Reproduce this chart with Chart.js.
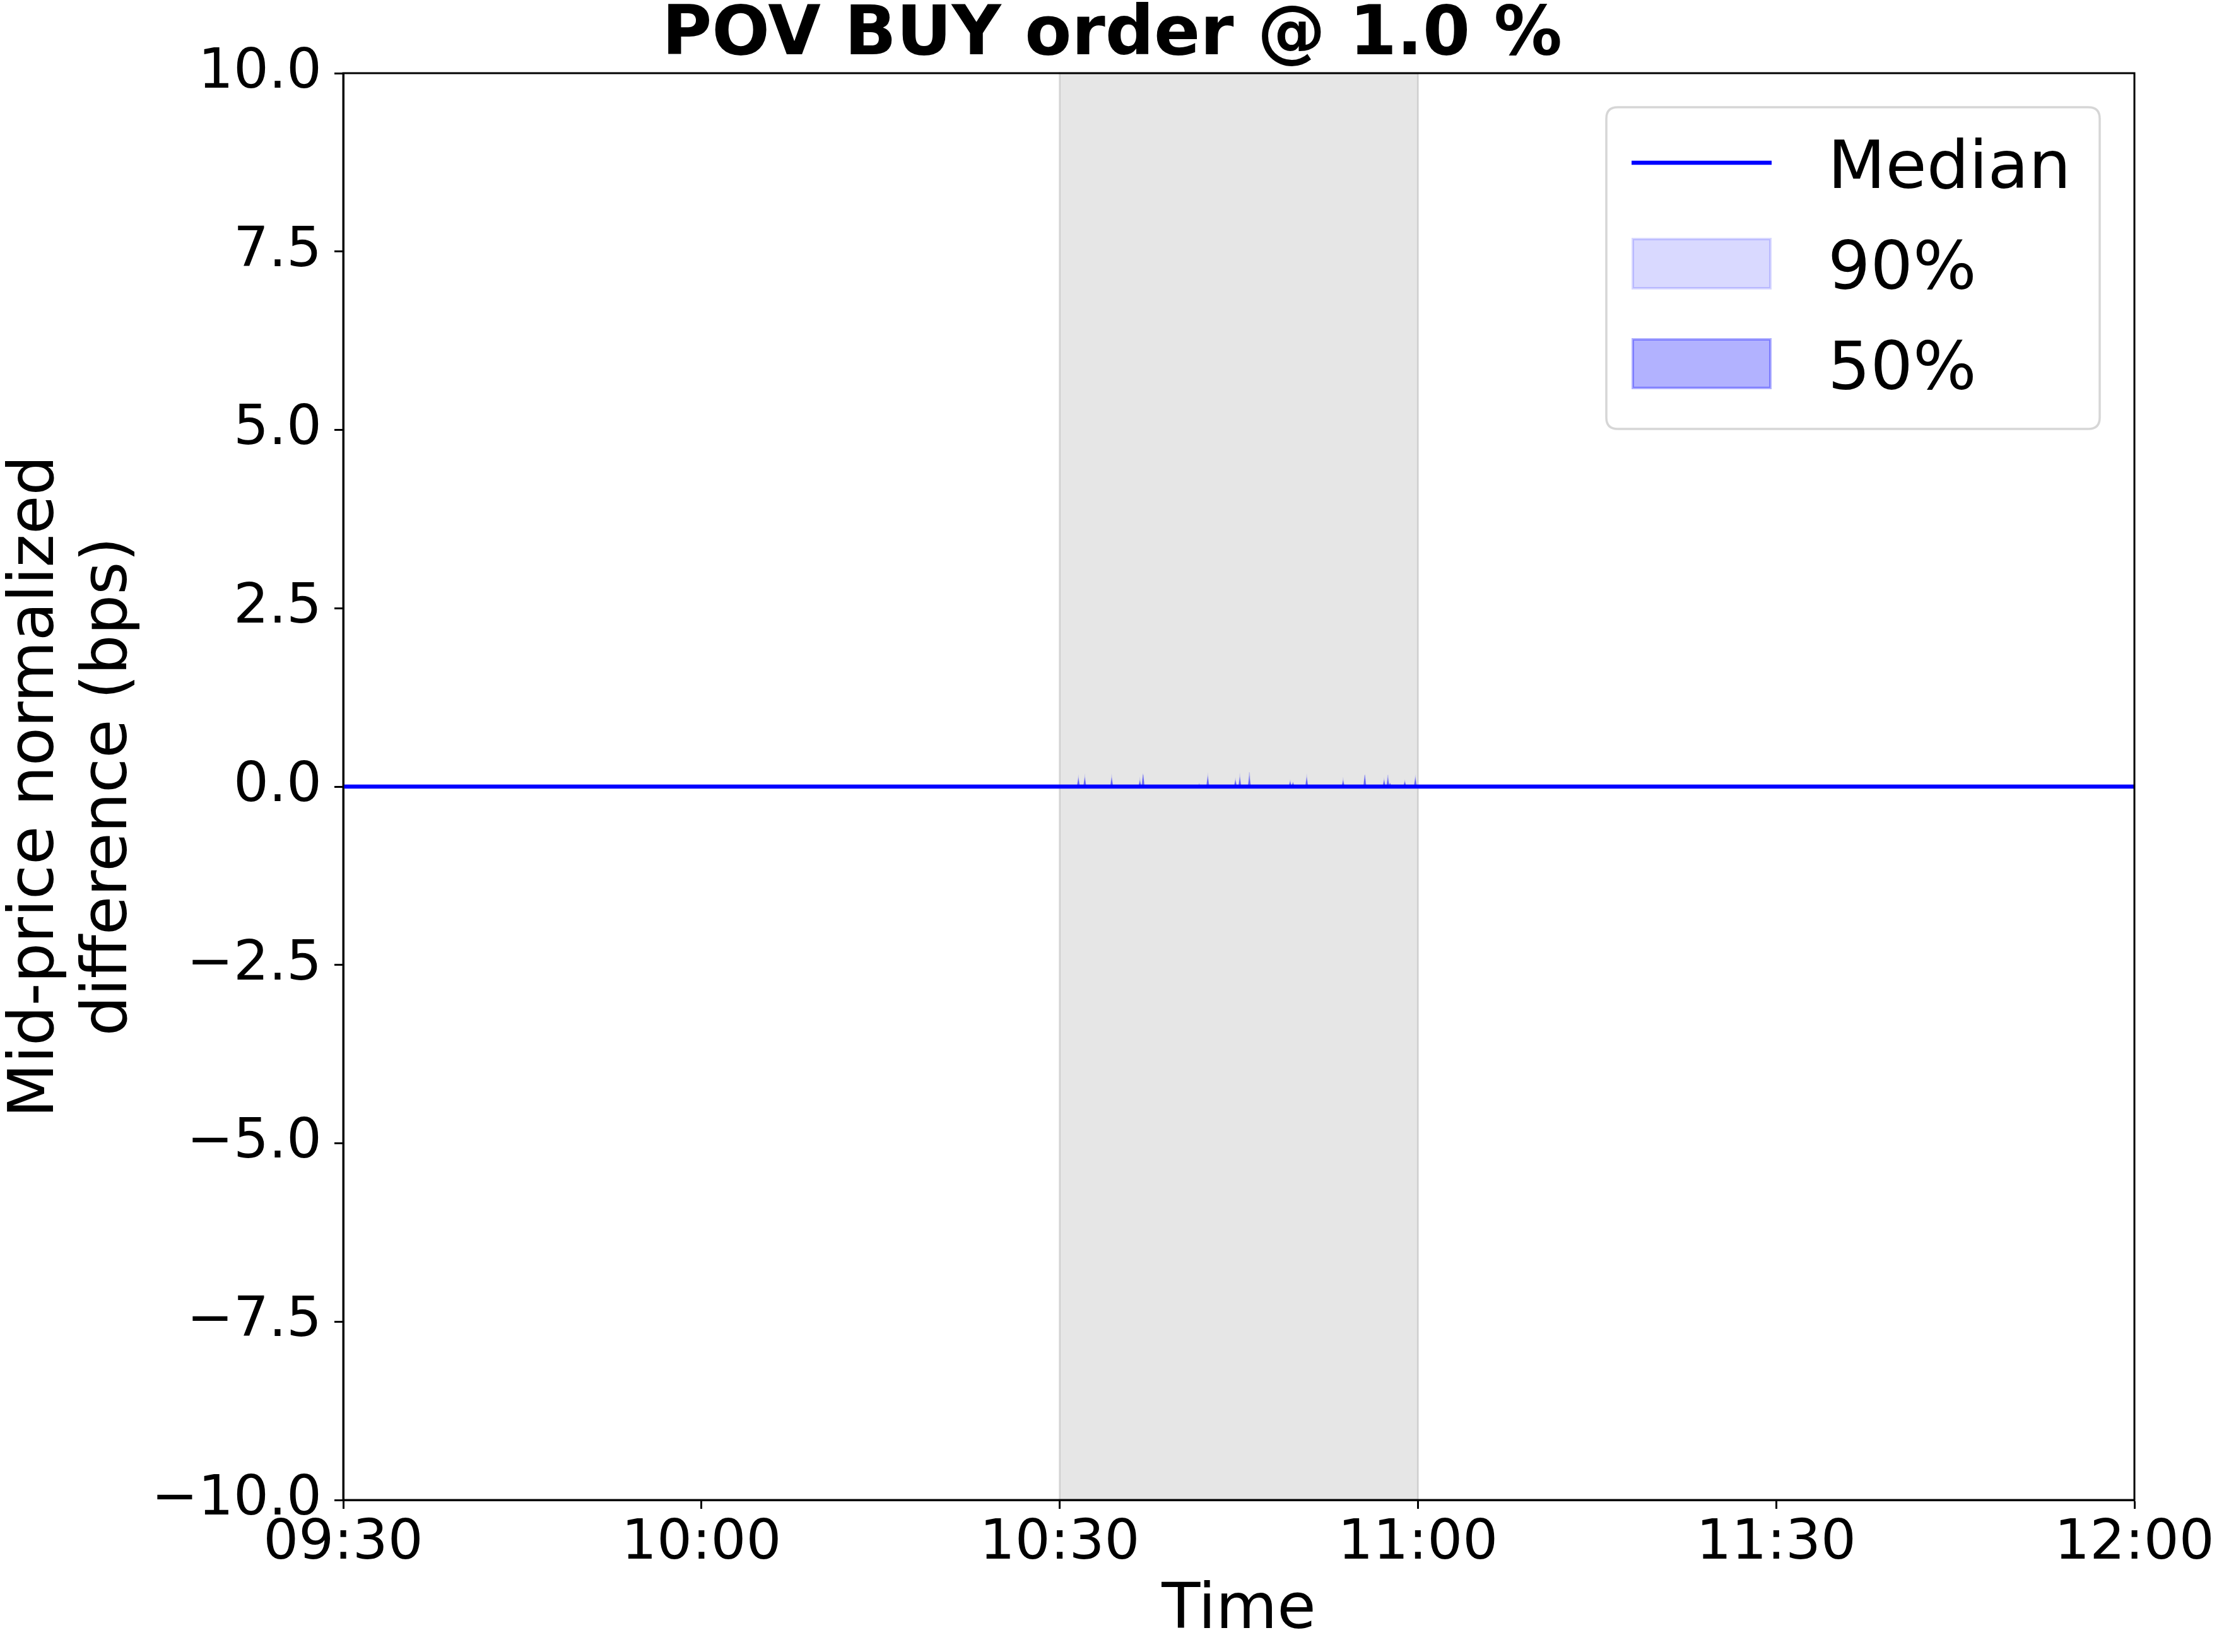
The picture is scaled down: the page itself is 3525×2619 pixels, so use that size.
<!DOCTYPE html>
<html>
<head>
<meta charset="utf-8">
<script src="https://cdn.jsdelivr.net/npm/chart.js@4.4.1/dist/chart.umd.min.js"></script>
<style>
  html, body { margin: 0; padding: 0; background: #ffffff; }
  #wrap { width: 3525px; height: 2619px; }
</style>
</head>
<body>
<div id="wrap"><canvas id="c" width="3525" height="2619"></canvas></div>
<script>
// ---------------- data ----------------
const chartTitle = "POV BUY order @ 1.0 %";
const xAxisTitle = "Time";
const yAxisTitle = ["Mid-price normalized", "difference (bps)"];
const sessionStart = "09:30:00";
const sessionEnd = "12:00:00";
const xTickLabels = ["09:30", "10:00", "10:30", "11:00", "11:30", "12:00"];
const yTickValues = [-10, -7.5, -5, -2.5, 0, 2.5, 5, 7.5, 10];
const shadeWindow = ["10:30:00", "11:00:00"];

const medianTimes = ["09:30:00", "12:00:00"];
const medianValues = [0, 0];

// times where the quantile bands leave zero (all within the order window)
const spikeTimes = ["10:31:34", "10:32:06", "10:34:21", "10:36:43", "10:36:59",
                    "10:41:41", "10:42:24", "10:44:43", "10:45:05", "10:45:53",
                    "10:49:18", "10:49:32", "10:50:41", "10:53:44", "10:55:33",
                    "10:57:10", "10:57:29", "10:57:40", "10:58:54", "10:59:47"];
const band90Upper = [0.121, 0.130, 0.130, 0.097, 0.168,
                     0.038, 0.139, 0.091, 0.139, 0.201,
                     0.073, 0.050, 0.130, 0.095, 0.162,
                     0.091, 0.162, 0.038, 0.071, 0.121];
const band50Upper = [0.091, 0.095, 0.091, 0.059, 0.133,
                     0.000, 0.109, 0.068, 0.095, 0.109,
                     0.053, 0.044, 0.097, 0.062, 0.121,
                     0.068, 0.091, 0.038, 0.053, 0.097];
const bandLower = 0;

const legendLabels = ["Median", "90%", "50%"];

// ---------------- helpers ----------------
function toMin(t) {
  const p = t.split(":").map(Number);
  return p[0] * 60 + p[1] + (p[2] || 0) / 60;
}
const t0 = toMin(sessionStart);
const rel = t => toMin(t) - t0;
const halfWidth = 0.09; // minutes, width of a single sample in the band

function bandPoints(upper) {
  const pts = [{ x: rel(sessionStart), y: bandLower }];
  spikeTimes.forEach((t, i) => {
    const m = rel(t);
    pts.push({ x: m - halfWidth, y: bandLower });
    pts.push({ x: m, y: upper[i] });
    pts.push({ x: m + halfWidth, y: bandLower });
  });
  pts.push({ x: rel(sessionEnd), y: bandLower });
  return pts;
}
const medianPoints = medianTimes.map((t, i) => ({ x: rel(t), y: medianValues[i] }));

function fmtTime(v) {
  const tot = Math.round(t0 + v);
  const h = Math.floor(tot / 60), m = tot % 60;
  return String(h).padStart(2, "0") + ":" + String(m).padStart(2, "0");
}

const FONT = "'DejaVu Sans', 'Liberation Sans', sans-serif";

// ---------------- plugins ----------------
const shadePlugin = {
  id: "shade",
  beforeDatasetsDraw(chart) {
    const { ctx, chartArea, scales } = chart;
    const x1 = scales.x.getPixelForValue(rel(shadeWindow[0]));
    const x2 = scales.x.getPixelForValue(rel(shadeWindow[1]));
    ctx.save();
    ctx.fillStyle = "rgba(128,128,128,0.2)";
    ctx.fillRect(x1, chartArea.top, x2 - x1, chartArea.bottom - chartArea.top);
    ctx.strokeStyle = "rgba(128,128,128,0.25)";
    ctx.lineWidth = 3;
    ctx.strokeRect(x1, chartArea.top, x2 - x1, chartArea.bottom - chartArea.top);
    ctx.restore();
  }
};

const framePlugin = {
  id: "frame",
  afterDatasetsDraw(chart) {
    const { ctx, chartArea } = chart;
    ctx.save();
    ctx.strokeStyle = "#000000";
    ctx.lineWidth = 3;
    ctx.strokeRect(chartArea.left, chartArea.top, chartArea.right - chartArea.left, chartArea.bottom - chartArea.top);
    ctx.restore();
  }
};

function roundRect(ctx, x, y, w, h, r) {
  ctx.beginPath();
  ctx.moveTo(x + r, y);
  ctx.lineTo(x + w - r, y);
  ctx.quadraticCurveTo(x + w, y, x + w, y + r);
  ctx.lineTo(x + w, y + h - r);
  ctx.quadraticCurveTo(x + w, y + h, x + w - r, y + h);
  ctx.lineTo(x + r, y + h);
  ctx.quadraticCurveTo(x, y + h, x, y + h - r);
  ctx.lineTo(x, y + r);
  ctx.quadraticCurveTo(x, y, x + r, y);
  ctx.closePath();
}

const legendPlugin = {
  id: "mplLegend",
  afterDraw(chart) {
    const { ctx } = chart;
    ctx.save();
    // frame
    roundRect(ctx, 2546, 170, 782, 510, 18);
    ctx.fillStyle = "rgba(255,255,255,0.8)";
    ctx.fill();
    ctx.strokeStyle = "rgba(204,204,204,0.8)";
    ctx.lineWidth = 3.5;
    ctx.stroke();
    // median handle
    ctx.strokeStyle = "#0000ff";
    ctx.lineWidth = 6.5;
    ctx.beginPath();
    ctx.moveTo(2586, 258);
    ctx.lineTo(2808, 258);
    ctx.stroke();
    // 90% patch
    ctx.fillStyle = "rgba(0,0,255,0.15)";
    ctx.fillRect(2588, 379, 218, 78);
    ctx.strokeStyle = "rgba(0,0,255,0.15)";
    ctx.lineWidth = 4;
    ctx.strokeRect(2588, 379, 218, 78);
    // 50% patch
    ctx.fillStyle = "rgba(0,0,255,0.3)";
    ctx.fillRect(2588, 538, 218, 77);
    ctx.strokeStyle = "rgba(0,0,255,0.3)";
    ctx.strokeRect(2588, 538, 218, 77);
    // labels
    ctx.fillStyle = "#000000";
    ctx.font = "106px " + FONT;
    ctx.textAlign = "left";
    ctx.textBaseline = "alphabetic";
    ctx.fillText(legendLabels[0], 2897, 298);
    ctx.fillText(legendLabels[1], 2897, 458);
    ctx.fillText(legendLabels[2], 2897, 617);
    ctx.restore();
  }
};

// ---------------- chart ----------------
new Chart(document.getElementById("c"), {
  type: "line",
  data: {
    datasets: [
      {
        label: legendLabels[0],
        data: medianPoints,
        borderColor: "#0000ff",
        borderWidth: 6.5,
        pointRadius: 0,
        fill: false,
        tension: 0
      },
      {
        label: legendLabels[2],
        data: bandPoints(band50Upper),
        borderColor: "rgba(0,0,255,0.3)",
        backgroundColor: "rgba(0,0,255,0.3)",
        borderWidth: 1.5,
        pointRadius: 0,
        fill: "origin",
        tension: 0
      },
      {
        label: legendLabels[1],
        data: bandPoints(band90Upper),
        borderColor: "rgba(0,0,255,0.15)",
        backgroundColor: "rgba(0,0,255,0.15)",
        borderWidth: 1.5,
        pointRadius: 0,
        fill: "origin",
        tension: 0
      }
    ]
  },
  options: {
    responsive: false,
    animation: false,
    devicePixelRatio: 1,
    layout: { padding: 0 },
    plugins: {
      legend: { display: false },
      tooltip: { enabled: false },
      title: {
        display: true,
        text: chartTitle,
        color: "#000000",
        font: { family: FONT, size: 108, weight: "bold", lineHeight: 1.0 },
        padding: { top: 4, bottom: 4 }
      }
    },
    scales: {
      x: {
        type: "linear",
        min: rel(sessionStart),
        max: rel(sessionEnd),
        afterFit(scale) { scale.height = 241; },
        afterBuildTicks(scale) {
          scale.ticks = xTickLabels.map(l => ({ value: rel(l) }));
        },
        ticks: {
          autoSkip: false,
          maxRotation: 0,
          minRotation: 0,
          color: "#000000",
          padding: 3,
          font: { family: FONT, size: 88, lineHeight: 1.2 },
          callback: v => fmtTime(v)
        },
        grid: {
          drawOnChartArea: false,
          drawTicks: true,
          tickLength: 14,
          tickWidth: 3,
          tickColor: "#000000"
        },
        border: { display: true, color: "#000000", width: 3 },
        title: {
          display: true,
          text: xAxisTitle,
          color: "#000000",
          font: { family: FONT, size: 100, lineHeight: 1.2 },
          padding: { top: 0, bottom: 4 }
        }
      },
      y: {
        type: "linear",
        position: "left",
        min: -10,
        max: 10,
        afterFit(scale) { scale.width = 544; },
        afterBuildTicks(scale) {
          scale.ticks = yTickValues.map(v => ({ value: v }));
        },
        ticks: {
          autoSkip: false,
          color: "#000000",
          padding: 20,
          font: { family: FONT, size: 88, lineHeight: 1.2 },
          callback: v => v.toFixed(1).replace("-", "\u2212")
        },
        grid: {
          drawOnChartArea: false,
          drawTicks: true,
          tickLength: 14,
          tickWidth: 3,
          tickColor: "#000000"
        },
        border: { display: true, color: "#000000", width: 3 },
        title: {
          display: true,
          text: yAxisTitle,
          color: "#000000",
          font: { family: FONT, size: 100, lineHeight: 1.16 },
          padding: { top: 0, bottom: 0 }
        }
      },
      // empty right margin (figure whitespace), keeps the title centred on the whole figure
      yRight: {
        type: "linear",
        position: "right",
        min: -10,
        max: 10,
        afterFit(scale) { scale.width = 142; },
        ticks: { display: false },
        grid: { display: false, drawTicks: false },
        border: { display: false },
        title: { display: false }
      }
    }
  },
  plugins: [shadePlugin, framePlugin, legendPlugin]
});
</script>
</body>
</html>
